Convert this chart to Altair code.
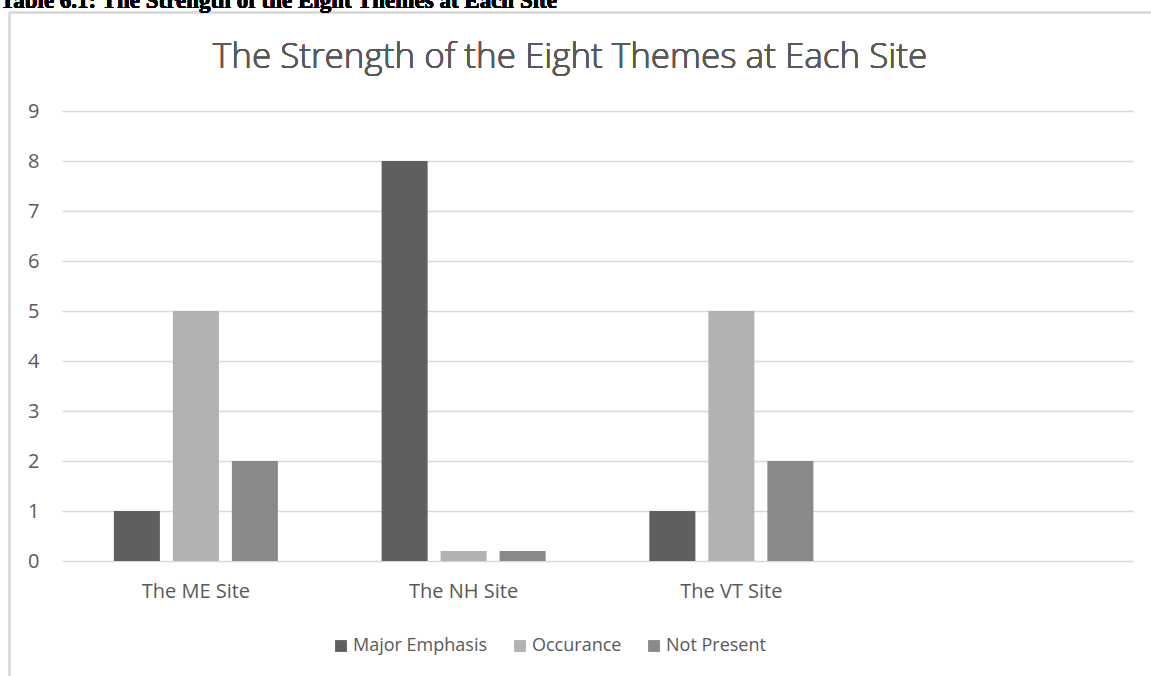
import altair as alt
import pandas as pd

sites = ["The ME Site", "The NH Site", "The VT Site", ""]
series = ["Major Emphasis", "Occurance", "Not Present"]
major = [1, 8, 1]
occur = [5, 0.2, 5]
notp = [2, 0.2, 2]
colors = ["#5f5f5f", "#b2b2b2", "#898989"]

rows = []
for i, s in enumerate(sites[:3]):
    rows.append({"site": s, "series": series[0], "value": major[i]})
    rows.append({"site": s, "series": series[1], "value": occur[i]})
    rows.append({"site": s, "series": series[2], "value": notp[i]})
df = pd.DataFrame(rows)

FONT = "Open Sans"
GRAY = "#595959"
PL, PT = 62, 111
W, H = 1071, 450

bars = alt.Chart(df).mark_bar().encode(
    x=alt.X("site:N", sort=sites,
            scale=alt.Scale(domain=sites, paddingInner=0, paddingOuter=0),
            axis=alt.Axis(title=None, labelFont=FONT, labelFontSize=20, labelColor=GRAY,
                          labelAngle=0, ticks=False, domain=False, labelPadding=20,
                          grid=False)),
    xOffset=alt.XOffset("series:N", sort=series,
                        scale=alt.Scale(domain=series, paddingInner=0.22, paddingOuter=0.879)),
    y=alt.Y("value:Q", scale=alt.Scale(domain=[0, 9], nice=False),
            axis=alt.Axis(title=None, values=list(range(10)), labelFont=FONT, labelFontSize=20,
                          labelColor=GRAY, ticks=False, domain=False, labelPadding=23,
                          gridColor="#d9d9d9", gridWidth=1.5)),
    color=alt.Color("series:N", sort=series,
                    scale=alt.Scale(domain=series, range=colors),
                    legend=alt.Legend(title=None, orient="none", direction="horizontal",
                                      legendX=270, legendY=526, symbolType="square",
                                      symbolSize=140, symbolStrokeWidth=0, labelFont=FONT,
                                      labelFontSize=18, labelColor=GRAY, labelOffset=3,
                                      columnPadding=23)),
)

frame_left = alt.Chart(df).mark_rule(color="#d9d9d9", strokeWidth=1.5).encode(
    x=alt.value(9.5 - PL), y=alt.value(12.5 - PT), y2=alt.value(700 - PT))
frame_top = alt.Chart(df).mark_rule(color="#d9d9d9", strokeWidth=1.5).encode(
    x=alt.value(9.5 - PL), x2=alt.value(1200 - PL), y=alt.value(12.5 - PT))

heading = alt.Chart(df).mark_text(
    text="Table 6.1: The Strength of the Eight Themes at Each Site",
    font="Liberation Serif", fontWeight="bold", fontSize=23, color="#000000",
    align="left", baseline="alphabetic").encode(
    x=alt.value(0 - PL), y=alt.value(8 - PT))

title = alt.Chart(df).mark_text(
    text="The Strength of the Eight Themes at Each Site",
    font=FONT, fontSize=35, fontWeight=300, color=GRAY, align="center",
    baseline="alphabetic").encode(
    x=alt.value(570 - PL), y=alt.value(68 - PT))

chart = alt.layer(frame_left, frame_top, heading, title, bars).properties(
    width=W, height=H,
    background="white",
    autosize=alt.AutoSizeParams(type="none"),
    padding={"left": PL, "top": PT, "right": 1151 - PL - W, "bottom": 676 - PT - H},
).configure_view(stroke=None)

chart.save("out.html", embed_options={"renderer": "svg", "actions": False})
